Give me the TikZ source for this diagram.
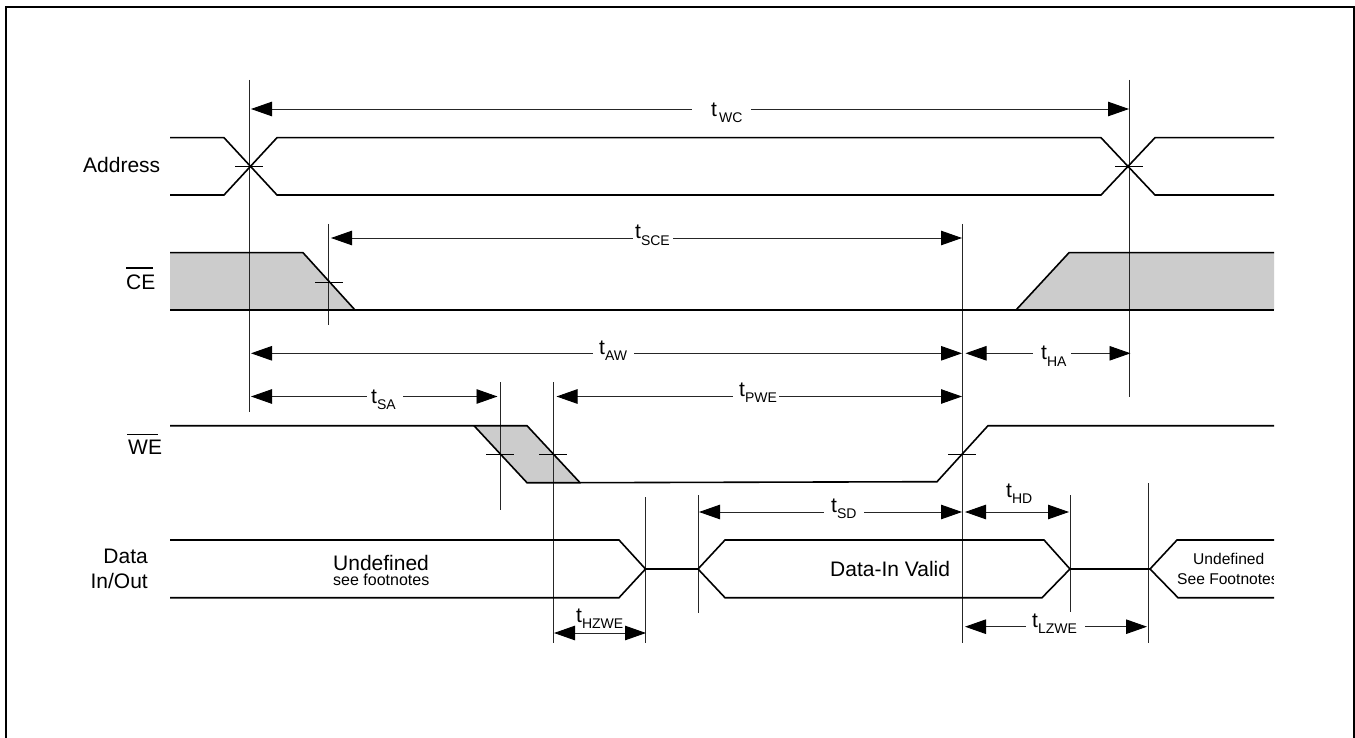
\documentclass[tikz,border=0pt]{standalone}
\usepackage{fontspec}
\setmainfont{Liberation Sans}
\usetikzlibrary{arrows.meta}
\newcommand{\tlab}[2][0pt]{t\kern#1\raisebox{-6.5pt}{\fontsize{14}{14}\selectfont #2}}
\tikzset{
  x=1pt,y=-1pt,
  >={Triangle[length=21pt,width=14.5pt,black]},
  signal/.style={line width=1.6pt,line join=miter,black},
  greyarea/.style={fill=black!20,draw=none},
  marker/.style={line width=0.9pt,black!85},
  tickline/.style={line width=0.8pt,black},
  dimline/.style={line width=0.9pt,black!85,<->},
  dimleft/.style={line width=0.9pt,black!85,<-},
  dimright/.style={line width=0.9pt,black!85,->},
  tlabel/.style={font=\fontsize{21}{24}\selectfont,inner sep=0pt,anchor=base west},
  signame/.style={font=\fontsize{21}{25}\selectfont,inner sep=0pt},
  statetext/.style={inner sep=0pt,anchor=base west}
}
\begin{document}
\begin{tikzpicture}
\useasboundingbox (0,0) rectangle (1355,738);
\fill[white] (0,0) rectangle (1355,738);
\draw[line width=2pt,line join=miter] (6,738) -- (6,6.8) -- (1354.2,6.8) -- (1354.2,738);
% signal names
\node[signame,anchor=base west] (nAddr) at (83,173) {Address};
\node[signame,anchor=base west] (nCE) at (126,289) {CE};
\node[signame,anchor=base west] (nWE) at (128,454) {WE};
\node[signame,anchor=base east] (nData) at (148,563) {Data};
\node[signame,anchor=base east] (nInOut) at (148,588) {In/Out};
\draw[line width=1pt] (126,268) -- (153,268);
\draw[line width=1pt] (127,434) -- (158,434);
% shading
\fill[greyarea] (170,253) -- (303,253) -- (355,310) -- (170,310) -- cycle;
\fill[greyarea] (1016,310) -- (1069,253) -- (1274,253) -- (1274,310) -- cycle;
\fill[greyarea] (474,425.7) -- (527,425.7) -- (580,482.7) -- (527,482.7) -- cycle;
% markers
\coordinate (m1a) at (249.5,80);   \coordinate (m1b) at (249.5,412);
\coordinate (m2a) at (1129.5,80);  \coordinate (m2b) at (1129.5,397);
\coordinate (m3a) at (328.5,224);  \coordinate (m3b) at (328.5,325);
\coordinate (m4a) at (962.5,224);  \coordinate (m4b) at (962.5,643);
\coordinate (m5a) at (500.5,382);  \coordinate (m5b) at (500.5,510);
\coordinate (m6a) at (553.5,382);  \coordinate (m6b) at (553.5,643);
\coordinate (m7a) at (645.5,497);  \coordinate (m7b) at (645.5,643);
\coordinate (m8a) at (698,495);    \coordinate (m8b) at (698,613);
\coordinate (m9a) at (1070,495);   \coordinate (m9b) at (1070,612);
\coordinate (m10a) at (1148,483);  \coordinate (m10b) at (1148,643);
\foreach \m in {1,...,10} \draw[marker] (m\m a) -- (m\m b);
% ticks
\draw[tickline] (235,166) -- (263,166);
\draw[tickline] (1115,166) -- (1143,166);
\draw[tickline] (315,282) -- (343,282);
\draw[tickline] (486,454) -- (514,454);
\draw[tickline] (539,454) -- (567,454);
\draw[tickline] (948,454) -- (976,454);
% Address
\draw[signal] (170,137.7) -- (224,137.7) -- (277,195) -- (1101,195) -- (1155,137.7) -- (1274,137.7);
\draw[signal] (170,195) -- (224,195) -- (277,137.7) -- (1101,137.7) -- (1155,195) -- (1274,195);
% CE
\draw[signal] (170,252.7) -- (303,252.7) -- (355,310);
\draw[signal] (170,310) -- (1016,310) -- (1069,252.7) -- (1274,252.7);
\draw[signal] (1016,310) -- (1274,310);
% WE
\draw[signal] (170,425.7) -- (527,425.7) -- (580,482.7);
\draw[signal] (474,425.7) -- (527,482.7) -- (580,482.7) -- (937,481.7) -- (988,425.7) -- (1274,425.7);
% Data
\draw[signal] (170,540) -- (619,540) -- (645.5,569) -- (619,597.7) -- (170,597.7);
\draw[signal] (645.5,569) -- (698,569);
\draw[signal] (1274,540) -- (1177,540) -- (1150,569) -- (1178,597.7) -- (1274,597.7);
\draw[signal] (698,569) -- (725,540) -- (1044,540) -- (1070,569) -- (1042,597.7) -- (725,597.7) -- cycle;
\draw[signal] (1070,569) -- (1150,569);
% dimension lines
\coordinate (wcL) at (251,109);   \coordinate (wcA) at (692,109);   \coordinate (wcB) at (751,109);   \coordinate (wcR) at (1129,109);
\coordinate (sceL) at (331,238);  \coordinate (sceA) at (633,238);  \coordinate (sceB) at (673,238);  \coordinate (sceR) at (962,238);
\coordinate (awL) at (251,353.3); \coordinate (awA) at (593,353.3); \coordinate (awB) at (634,353.3); \coordinate (awR) at (962,353.3);
\coordinate (haL) at (965.5,353.3); \coordinate (haA) at (1033,353.3); \coordinate (haB) at (1071,353.3); \coordinate (haR) at (1130.5,353.3);
\coordinate (saL) at (251,396.5); \coordinate (saA) at (367,396.5); \coordinate (saB) at (403,396.5); \coordinate (saR) at (497.5,396.5);
\coordinate (pweL) at (556.5,396.5); \coordinate (pweA) at (733,396.5); \coordinate (pweB) at (779,396.5); \coordinate (pweR) at (962,396.5);
\coordinate (sdL) at (699,512);   \coordinate (sdA) at (824,512);   \coordinate (sdB) at (864,512);   \coordinate (sdR) at (962,512);
\coordinate (hdL) at (965,512);   \coordinate (hdR) at (1069,512);
\coordinate (hzL) at (554,633);   \coordinate (hzR) at (646,633);
\coordinate (lzL) at (965,626.7); \coordinate (lzA) at (1026,626.7); \coordinate (lzB) at (1085,626.7); \coordinate (lzR) at (1147,626.7);
\foreach \d in {wc,sce,aw,ha,sa,pwe,sd,lz}{
  \draw[dimleft] (\d L) -- (\d A);
  \draw[dimright] (\d B) -- (\d R);
}
\draw[dimline] (hdL) -- (hdR);
\draw[dimline] (hzL) -- (hzR);
% timing labels
\node[tlabel] (lWC) at (711,116.5) {\tlab[2pt]{WC}};
\node[tlabel] (lSCE) at (635,239) {\tlab{SCE}};
\node[tlabel] (lAW) at (599,354) {\tlab{AW}};
\node[tlabel] (lHA) at (1041,359.5) {\tlab{HA}};
\node[tlabel] (lSA) at (371,403) {\tlab{SA}};
\node[tlabel] (lPWE) at (739,396) {\tlab{PWE}};
\node[tlabel] (lSD) at (831,512) {\tlab{SD}};
\node[tlabel] (lHD) at (1006,497) {\tlab{HD}};
\node[tlabel] (lHZ) at (576,622) {\tlab{HZWE}};
\node[tlabel] (lLZ) at (1032,627) {\tlab{LZWE}};
% state labels
\node[statetext,font=\fontsize{21}{24}\selectfont] (u1) at (333,570) {Undefined};
\node[statetext,font=\fontsize{16}{18}\selectfont] (u2) at (333,585) {see footnotes};
\node[statetext,font=\fontsize{21}{24}\selectfont] (valid) at (830,576) {Data-In Valid};
\begin{scope}
\clip (1150,530) rectangle (1273,610);
\node[statetext,font=\fontsize{15.6}{18}\selectfont] (u3) at (1193,564) {Undefined};
\node[statetext,font=\fontsize{15.6}{18}\selectfont] (u4) at (1177,584) {See Footnotes};
\end{scope}
\end{tikzpicture}
\end{document}
